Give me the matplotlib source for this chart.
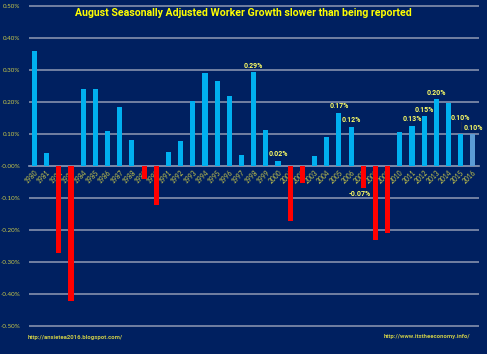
import numpy as np
import matplotlib
matplotlib.use('Agg')
import matplotlib.pyplot as plt
from matplotlib.ticker import FuncFormatter

plt.rcParams['font.family'] = ['Lato', 'DejaVu Sans']

years = [str(y) for y in range(1980, 2017)]
growth = [0.36, 0.04, -0.27, -0.42, 0.24, 0.24, 0.11, 0.185, 0.083, -0.04,
          -0.12, 0.045, 0.08, 0.203, 0.29, 0.266, 0.22, 0.036, 0.294, 0.113,
          0.017, -0.17, -0.054, 0.031, 0.09, 0.167, 0.124, -0.068, -0.23, -0.21,
          0.106, 0.126, 0.156, 0.209, 0.196, 0.10, 0.10]
labelled = {'1998': '0.29%', '2000': '0.02%', '2005': '0.17%', '2006': '0.12%',
            '2007': '-0.07%', '2011': '0.13%', '2012': '0.15%', '2013': '0.20%',
            '2015': '0.10%', '2016': '0.10%'}

navy = '#002060'
txt = '#c8c84a'
bold_font = ['Roboto', 'DejaVu Sans']
fig = plt.figure(figsize=(4.87, 3.54), dpi=100, facecolor=navy)
ax = fig.add_axes([0.0595, 0.074, 0.924, 0.913])
ax.set_facecolor(navy)

x = np.arange(len(years))
colors = []
for y, v in zip(years, growth):
    if y == '2016':
        colors.append('#5b9bd5')
    elif v < 0:
        colors.append('#ff0000')
    else:
        colors.append('#00b0f0')
ax.bar(x, growth, width=0.42, color=colors, zorder=3)

ax.set_xlim(-0.45, 36.5)
ax.set_ylim(-0.505, 0.505)
ax.set_yticks(np.arange(-0.5, 0.51, 0.1))
ax.yaxis.set_major_formatter(FuncFormatter(lambda v, p: '%.2f%%' % v))
ax.grid(axis='y', color='#7a88a8', linewidth=1.3, zorder=0)
for s in ['top', 'right', 'left']:
    ax.spines[s].set_visible(False)
ax.spines['bottom'].set_position(('data', 0))
ax.spines['bottom'].set_color('#7a88a8')
ax.spines['bottom'].set_linewidth(1.3)
ax.set_xticks(x)
ax.set_xticklabels(years, rotation=45, ha='right', va='top', rotation_mode='anchor')
ax.tick_params(axis='x', length=0, pad=2, labelsize=4.8, colors=txt)
ax.tick_params(axis='y', length=0, pad=6, labelsize=4.5, colors=txt)

for i, (y, v) in enumerate(zip(years, growth)):
    if y in labelled:
        kw = dict(ha='center', va='center', fontsize=5, color='#ffff66',
                  fontweight='bold', family=bold_font, zorder=5)
        if y == '2015':
            ax.plot([i, i], [v + 0.012, v + 0.037], color='#1a2a50', lw=0.8, zorder=4)
            ax.text(i, v + 0.052, labelled[y], **kw)
        elif v < 0:
            ax.text(i - 0.25, v - 0.02, labelled[y], **kw)
        else:
            ax.text(i, v + 0.02, labelled[y], **kw)

fig.text(0.5, 0.963, 'August Seasonally Adjusted Worker Growth slower than being reported',
         ha='center', va='center', fontsize=7.6, color='#ffff00', fontweight='bold',
         family=bold_font)
fig.text(0.057, 0.048, 'http://anxietea2016.blogspot.com/', ha='left', va='center',
         fontsize=4.3, color=txt, fontweight='bold', family=bold_font)
fig.text(0.965, 0.050, 'http://www.itstheeconomy.info/', ha='right', va='center',
         fontsize=4.3, color=txt, fontweight='bold', family=bold_font)

fig.savefig('out.png', dpi=100, facecolor=navy)
